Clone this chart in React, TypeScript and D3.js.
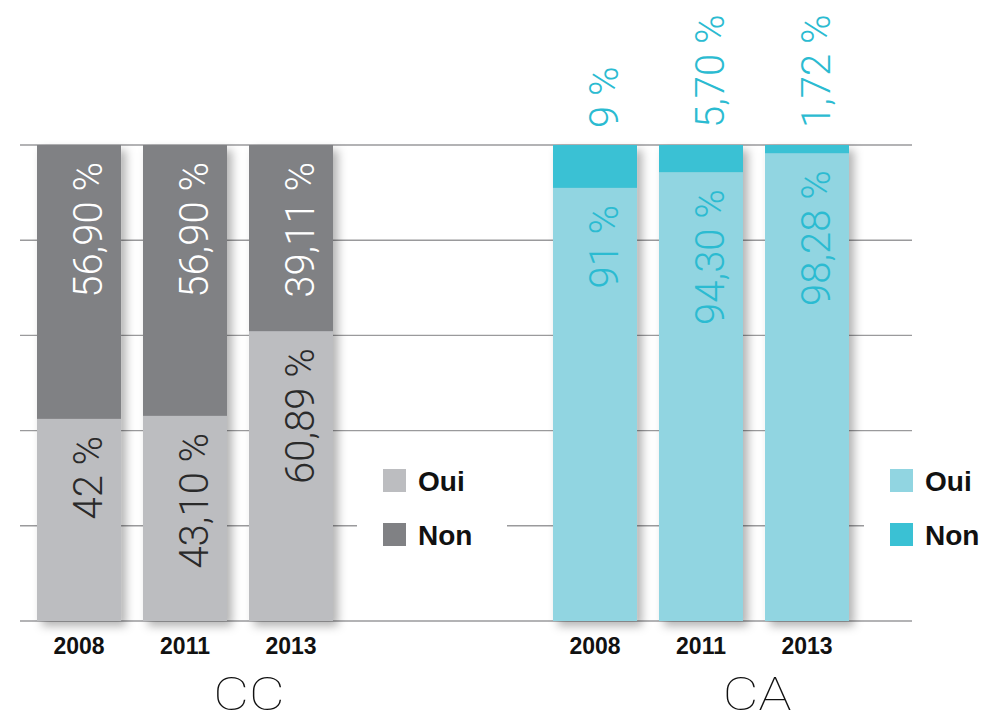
import React from 'react';
import * as d3 from 'd3';

// data
const years = ['2008', '2011', '2013'];
const ccOui = [42, 43.1, 60.89];
const ccNon = [56.9, 56.9, 39.11];
const caOui = [91, 94.3, 98.28];
const caNon = [9, 5.7, 1.72];
const seriesNames = ['Oui', 'Non'];

const fmt = (v: number) =>
  (Number.isInteger(v) ? String(v) : v.toFixed(2).replace('.', ',')) + ' %';

const WIDTH = 982;
const HEIGHT = 723;
const margin = { top: 145, bottom: 102, left: 20, right: 70 };

const groups = [
  {
    name: 'CC', oui: ccOui, non: ccNon, x0: 37,
    colors: ['#bcbdc0', '#808184'],
    labelColors: ['#2a2a2a', '#ffffff'],
    nonOutside: false,
    legendBox: [357, 507],
    titleX: 249,
  },
  {
    name: 'CA', oui: caOui, non: caNon, x0: 553,
    colors: ['#91d5e1', '#3ac1d4'],
    labelColors: ['#2bbbd1', '#2bbbd1'],
    nonOutside: true,
    legendBox: [864, 982],
    titleX: 757,
  },
];

const thin = "'Roboto', 'Inter', 'Lato', sans-serif";
const sans = "'Liberation Sans', Arial, Helvetica, sans-serif";

export default function App() {
  const y = d3.scaleLinear().domain([0, 1]).range([HEIGHT - margin.bottom, margin.top]);
  const x = d3.scaleBand<string>().domain(years).range([0, 296]).paddingInner(0.2075).paddingOuter(0);
  const ticks = d3.range(0, 1.0001, 0.2);
  const gridRight = WIDTH - margin.right;

  return (
    <svg width={WIDTH} height={HEIGHT} style={{ position: 'absolute', left: 0, top: 0, background: '#fff' }}>
      <defs>
        <filter id="shadow" x="-20%" y="-10%" width="160%" height="130%">
          <feDropShadow dx="5" dy="5" stdDeviation="5" floodColor="#000" floodOpacity="0.3" />
        </filter>
      </defs>

      {/* gridlines */}
      <g>
        {ticks.map((t) => (
          <line key={t} x1={margin.left} x2={gridRight} y1={y(t)} y2={y(t)} stroke="#9a9a9c" strokeWidth={1.4} />
        ))}
      </g>

      {groups.map((g) => {
        const stacked = d3.stack<number>()
          .keys([0, 1] as any)
          .value((i, k) => (k === 0 ? g.oui[i] : g.non[i]))
          .offset(d3.stackOffsetExpand)(d3.range(years.length));
        const legendY = [480, 534];
        const legendX = g.legendBox[0] + 26;
        return (
          <g key={g.name}>
            {/* legend background covering the grid */}
            <rect x={g.legendBox[0]} y={445} width={g.legendBox[1] - g.legendBox[0]} height={160} fill="#fff" />

            {/* bars */}
            <g filter="url(#shadow)">
              {years.map((yr) => (
                <rect key={yr} x={g.x0 + (x(yr) ?? 0)} width={x.bandwidth()}
                  y={y(1)} height={y(0) - y(1)} fill={g.colors[0]} />
              ))}
            </g>
            {stacked.map((layer, k) =>
              layer.map((d, i) => (
                <rect key={`${k}-${i}`} x={g.x0 + (x(years[i]) ?? 0)} width={x.bandwidth()}
                  y={y(d[1])} height={y(d[0]) - y(d[1])} fill={g.colors[k]} />
              ))
            )}

            {/* value labels */}
            {stacked.map((layer, k) =>
              layer.map((d, i) => {
                const cx = g.x0 + (x(years[i]) ?? 0) + x.bandwidth() / 2 + 23;
                const val = k === 0 ? g.oui[i] : g.non[i];
                const outside = k === 1 && g.nonOutside;
                const ty = outside ? y(1) - 17 : y(d[1]) + 17;
                return (
                  <text key={`l${k}-${i}`} transform={`translate(${cx},${ty}) rotate(-90)`}
                    textAnchor={outside ? 'start' : 'end'} fill={g.labelColors[k]}
                    fontFamily={thin} fontWeight={300} fontSize={40}>
                    {fmt(val)}
                  </text>
                );
              })
            )}

            {/* year labels */}
            {years.map((yr) => (
              <text key={yr} x={g.x0 + (x(yr) ?? 0) + x.bandwidth() / 2} y={654}
                textAnchor="middle" fontFamily={sans} fontWeight={700} fontSize={23} fill="#111">
                {yr}
              </text>
            ))}

            {/* legend */}
            {seriesNames.map((s, k) => (
              <g key={s}>
                <rect x={legendX} y={legendY[k] - 11} width={23} height={23} fill={g.colors[k]} />
                <text x={legendX + 35} y={legendY[k] + 11} fontFamily={sans} fontWeight={700}
                  fontSize={28} fill="#111">{s}</text>
              </g>
            ))}

            {/* group title */}
            <text transform={`translate(${g.titleX},710) scale(1.2,1)`} textAnchor="middle"
              fontFamily={thin} fontWeight={100} fontSize={46} fill="#111">{g.name}</text>
          </g>
        );
      })}
    </svg>
  );
}
